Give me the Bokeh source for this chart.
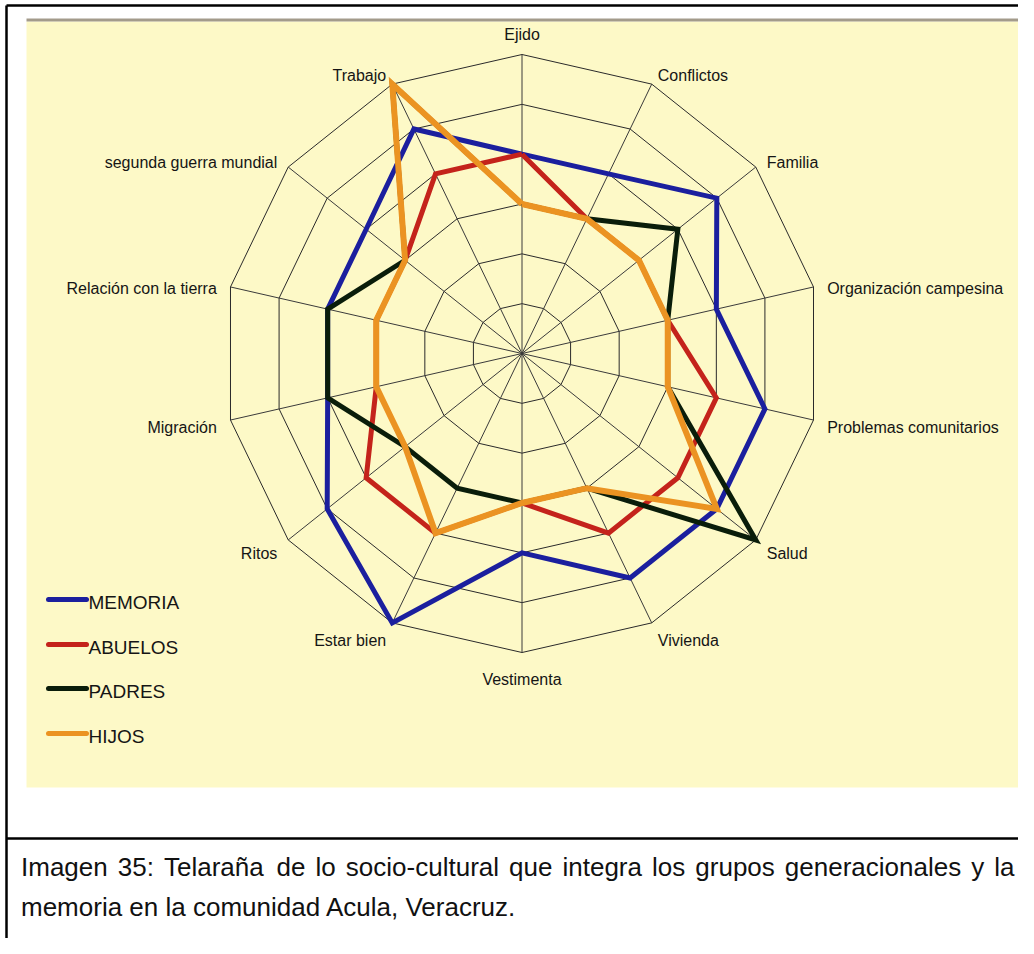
import math
from bokeh.plotting import figure
from bokeh.models import Range1d
from bokeh.core.properties import value
from bokeh.embed import file_html
from bokeh.resources import INLINE

# ---------------- data ----------------
categories = ["Ejido", "Conflictos", "Familia", "Organización campesina",
              "Problemas comunitarios", "Salud", "Vivienda", "Vestimenta",
              "Estar bien", "Ritos", "Migración", "Relación con la tierra",
              "segunda guerra mundial", "Trabajo"]
memoria = [4, 4, 5, 4, 5, 5, 5, 4, 6, 5, 4, 4, 4, 5]
abuelos = [4, 3, 3, 3, 4, 4, 4, 3, 4, 4, 3, 3, 3, 4]
padres  = [3, 3, 4, 3, 3, 6, 3, 3, 3, 3, 4, 4, 3, 6]
hijos   = [3, 3, 3, 3, 3, 5, 3, 3, 4, 3, 3, 3, 3, 6]
series_names = ["MEMORIA", "ABUELOS", "PADRES", "HIJOS"]
ring_levels = [1, 2, 3, 4, 5, 6]
caption_lines = [
    "Imagen 35: Telaraña de lo socio-cultural que integra los grupos generacionales y la",
    "memoria en la comunidad Acula, Veracruz.",
]

# ---------------- styles / layout ----------------
series_values = [memoria, abuelos, padres, hijos]
series_colors = ["#1b1f9e", "#c4231b", "#0a1d0a", "#eb9322"]
series_widths = [5, 5, 5, 6]
FONT = value("Liberation Sans")

W, H = 1018, 938
p = figure(width=W, height=H, x_range=Range1d(0, W), y_range=Range1d(H, 0),
           output_backend="svg", toolbar_location=None,
           x_axis_location=None, y_axis_location=None, min_border=0)
p.min_border_left = p.min_border_right = p.min_border_top = p.min_border_bottom = 0
p.grid.visible = False
p.outline_line_color = None
p.background_fill_color = "white"
p.border_fill_color = "white"

# panel background
p.quad(left=[26], right=[1025], top=[21], bottom=[787], fill_color="#fdf9c7", line_color=None)
p.quad(left=[26], right=[1025], top=[18], bottom=[21], fill_color="#a39b8b", line_color=None)

# frame lines
p.line([6, 6], [5, 940], line_color="black", line_width=2.5)
p.line([6, 1020], [5, 5], line_color="black", line_width=2.5)
p.line([6, 1020], [838, 838], line_color="black", line_width=2.5)

# radar geometry
cx, cy = 521.5, 353.0
R = 299.0
n = len(categories)
unit = R / max(ring_levels)
angles = [math.pi / 2 - i * 2 * math.pi / n for i in range(n)]

def pt(r, a):
    return cx + r * unit * math.cos(a), cy - r * unit * math.sin(a)

ring_xs, ring_ys = [], []
for L in ring_levels:
    pts = [pt(L, a) for a in angles]
    pts.append(pts[0])
    ring_xs.append([q[0] for q in pts])
    ring_ys.append([q[1] for q in pts])
p.multi_line(ring_xs, ring_ys, line_color="#2a2a2a", line_width=1)

outer = [pt(max(ring_levels), a) for a in angles]
p.segment(x0=[cx] * n, y0=[cy] * n, x1=[q[0] for q in outer], y1=[q[1] for q in outer],
          line_color="#3a3a3a", line_width=1)

# series
for vals, col, lw in zip(series_values, series_colors, series_widths):
    pts = [pt(v, a) for v, a in zip(vals, angles)]
    pts.append(pts[0])
    p.line([q[0] for q in pts], [q[1] for q in pts], line_color=col, line_width=lw,
           line_join="miter")

# category labels
lx, ly, lalign = [], [], []
for a in angles:
    c, s = math.cos(a), math.sin(a)
    if abs(c) < 0.1:
        lx.append(cx)
        ly.append(cy - R - 20 if s > 0 else cy + R + 27)
        lalign.append("center")
    else:
        lx.append(cx + (R + 14) * c)
        ly.append(cy - (R + 14) * s + 4.5)
        lalign.append("left" if c > 0 else "right")
for x, y, t, al in zip(lx, ly, categories, lalign):
    p.text(x=[x], y=[y], text=[t], text_align=al, text_baseline="middle",
           text_font=FONT, text_font_size="16px", text_color="#151515")

# legend
leg_y = [602, 647, 691, 736]
for name, col, yy in zip(series_names, series_colors, leg_y):
    p.line([48, 86], [yy - 3, yy - 3], line_color=col, line_width=5, line_cap="round")
    p.text(x=[88], y=[yy], text=[name], text_align="left", text_baseline="middle",
           text_font=FONT, text_font_size="19px", text_color="#151515")

# caption (justified first line)
ARIAL = {' ': 278, '3': 556, '5': 556, ':': 278, '-': 333, ',': 278, '.': 278,
         'I': 278, 'T': 611, 'A': 667, 'V': 667,
         'a': 556, 'c': 500, 'd': 556, 'e': 556, 'g': 556, 'i': 222, 'l': 222,
         'm': 833, 'n': 556, 'ñ': 556, 'o': 556, 'p': 556, 'q': 556, 'r': 333,
         's': 500, 't': 278, 'u': 556, 'y': 500, 'z': 500}
cap_size = 26
def wwidth(w):
    return sum(ARIAL.get(ch, 556) for ch in w) * cap_size / 1000.0

x_left, x_right = 20.5, 1014.0
words = caption_lines[0].split(" ")
total = sum(wwidth(w) for w in words)
gap = (x_right - x_left - total) / (len(words) - 1)
xs, x = [], x_left
for w in words:
    xs.append(x)
    x += wwidth(w) + gap
p.text(x=xs, y=[866] * len(words), text=words, text_align="left", text_baseline="alphabetic",
       text_font=FONT, text_font_size=f"{cap_size}px", text_color="#111111")
p.text(x=[x_left], y=[906], text=[caption_lines[1]], text_align="left",
       text_baseline="alphabetic", text_font=FONT, text_font_size=f"{cap_size}px",
       text_color="#111111")

open("out.html", "w").write(file_html(p, INLINE))
